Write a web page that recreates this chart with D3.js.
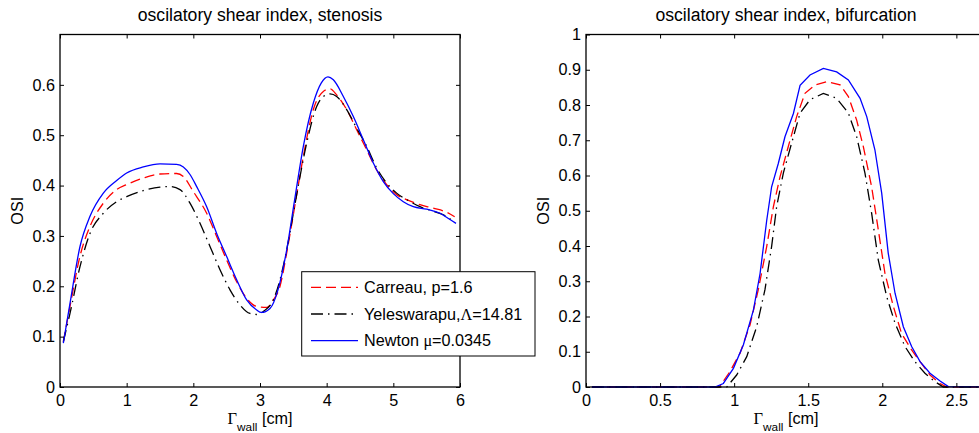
<!DOCTYPE html>
<html>
<head>
<meta charset="utf-8">
<script src="https://cdn.jsdelivr.net/npm/d3@7"></script>
<style>
  body { margin: 0; background: #fff; }
  text { font-family: "Liberation Sans", Arial, sans-serif; font-size: 16.2px; fill: #000; }
  text.title { font-size: 17.6px; }
</style>
</head>
<body>
<svg id="chart" width="979" height="433"></svg>
<script>
// stenosis panel, [x in cm, OSI]
var stenCarreau = [[0.05,0.09],[0.15,0.16],[0.3,0.26],[0.45,0.319],[0.65,0.365],[0.85,0.392],[1.0,0.402],[1.25,0.415],[1.5,0.423],[1.75,0.424],[1.85,0.418],[2.0,0.388],[2.2,0.345],[2.35,0.299],[2.5,0.252],[2.65,0.209],[2.8,0.176],[2.95,0.16],[3.1,0.158],[3.2,0.173],[3.3,0.2],[3.4,0.266],[3.52,0.358],[3.65,0.458],[3.8,0.551],[3.95,0.587],[4.05,0.592],[4.15,0.58],[4.3,0.551],[4.45,0.511],[4.6,0.471],[4.75,0.431],[4.9,0.402],[5.05,0.382],[5.2,0.372],[5.4,0.362],[5.6,0.355],[5.8,0.347],[5.92,0.338]]
var stenYeles = [[0.05,0.09],[0.15,0.146],[0.3,0.239],[0.45,0.305],[0.65,0.345],[0.85,0.368],[1.0,0.378],[1.25,0.39],[1.5,0.397],[1.65,0.398],[1.8,0.392],[1.95,0.365],[2.1,0.325],[2.25,0.279],[2.4,0.233],[2.55,0.193],[2.7,0.163],[2.85,0.146],[2.95,0.144],[3.05,0.15],[3.2,0.173],[3.3,0.213],[3.4,0.272],[3.5,0.345],[3.6,0.418],[3.7,0.484],[3.85,0.557],[3.95,0.577],[4.05,0.582],[4.15,0.577],[4.3,0.551],[4.45,0.514],[4.6,0.478],[4.75,0.435],[4.9,0.405],[5.05,0.385],[5.2,0.372],[5.4,0.358],[5.6,0.349],[5.75,0.342],[5.92,0.327]]
var stenNewton = [[0.05,0.087],[0.15,0.166],[0.3,0.279],[0.45,0.339],[0.65,0.385],[0.85,0.41],[1.0,0.425],[1.25,0.437],[1.5,0.443],[1.75,0.442],[1.85,0.437],[1.95,0.422],[2.05,0.398],[2.2,0.358],[2.35,0.305],[2.5,0.259],[2.65,0.213],[2.8,0.173],[2.95,0.153],[3.02,0.148],[3.15,0.156],[3.27,0.193],[3.4,0.272],[3.52,0.372],[3.65,0.478],[3.8,0.564],[3.92,0.604],[4.02,0.616],[4.1,0.61],[4.25,0.577],[4.4,0.537],[4.55,0.491],[4.7,0.445],[4.85,0.408],[5.0,0.384],[5.15,0.368],[5.3,0.358],[5.5,0.353],[5.7,0.345],[5.82,0.335],[5.94,0.325]]

// bifurcation panel
var bifCarreau = [[0.04,0],[0.9,0],[0.972,0.044],[1.04,0.096],[1.107,0.176],[1.163,0.276],[1.22,0.399],[1.265,0.512],[1.31,0.597],[1.366,0.683],[1.422,0.767],[1.478,0.833],[1.546,0.857],[1.625,0.866],[1.715,0.857],[1.771,0.824],[1.827,0.757],[1.872,0.682],[1.928,0.568],[1.973,0.446],[2.018,0.322],[2.075,0.228],[2.13,0.152],[2.198,0.105],[2.255,0.072],[2.322,0.034],[2.39,0.01],[2.435,0],[2.7,0]]
var bifYeles = [[0.04,0],[0.95,0],[1.017,0.034],[1.085,0.086],[1.152,0.171],[1.208,0.276],[1.253,0.399],[1.287,0.512],[1.332,0.607],[1.388,0.692],[1.445,0.777],[1.512,0.815],[1.602,0.833],[1.692,0.819],[1.771,0.777],[1.827,0.71],[1.883,0.607],[1.928,0.493],[1.973,0.36],[2.03,0.256],[2.086,0.181],[2.153,0.115],[2.22,0.072],[2.288,0.039],[2.356,0.015],[2.412,0],[2.7,0]]
var bifNewton = [[0.04,0],[0.871,0],[0.927,0.01],[0.995,0.053],[1.062,0.119],[1.13,0.218],[1.175,0.322],[1.22,0.473],[1.253,0.568],[1.298,0.634],[1.343,0.71],[1.4,0.776],[1.445,0.856],[1.512,0.885],[1.602,0.904],[1.692,0.894],[1.771,0.871],[1.85,0.819],[1.895,0.767],[1.95,0.673],[1.996,0.55],[2.04,0.38],[2.086,0.266],[2.142,0.171],[2.198,0.115],[2.255,0.072],[2.322,0.039],[2.39,0.017],[2.446,0.001],[2.7,0]]

var stenXTicks = [0, 1, 2, 3, 4, 5, 6]
var stenYTicks = [0, 0.1, 0.2, 0.3, 0.4, 0.5, 0.6]
var bifXTicks = [0, 0.5, 1, 1.5, 2, 2.5]
var bifYTicks = [0, 0.1, 0.2, 0.3, 0.4, 0.5, 0.6, 0.7, 0.8, 0.9, 1]

var legendNames = ['Carreau, p=1.6', 'Yeleswarapu,', 'Newton ']
var legendGreek = ['', '\u039B', '\u03BC']
var legendTail = ['', '=14.81', '=0.0345']

var styles = [
    { color: '#ff0000', dash: '10,5' },
    { color: '#000000', dash: '12,5,1.5,5' },
    { color: '#0000ff', dash: null }
]

var svg = d3.select('#chart')

function panel(opt) {
    var x = d3.scaleLinear().domain(opt.xDomain).range([opt.left, opt.left + 400])
    var y = d3.scaleLinear().domain(opt.yDomain).range([387, 34.5])
    var g = svg.append('g')
    var fmt = function (d) { return String(d) }

    // data lines
    var line = d3.line()
        .x(function (d) { return x(d[0]) })
        .y(function (d) { return y(d[1]) })
        .curve(opt.curve)
    opt.series.forEach(function (s, i) {
        g.append('path')
            .datum(s)
            .attr('d', line)
            .attr('fill', 'none')
            .attr('stroke', styles[i].color)
            .attr('stroke-width', 1.3)
            .attr('stroke-dasharray', styles[i].dash)
    })

    // axes, ticks pointing inwards on all four sides
    var gx = g.append('g').attr('transform', 'translate(0,387)')
        .call(d3.axisBottom(x).tickValues(opt.xTicks).tickFormat(fmt).tickSizeInner(-4).tickSizeOuter(0).tickPadding(7))
    var gxt = g.append('g').attr('transform', 'translate(0,34.5)')
        .call(d3.axisTop(x).tickValues(opt.xTicks).tickFormat('').tickSizeInner(-4).tickSizeOuter(0))
    var gy = g.append('g').attr('transform', 'translate(' + opt.left + ',0)')
        .call(d3.axisLeft(y).tickValues(opt.yTicks).tickFormat(fmt).tickSizeInner(-4).tickSizeOuter(0).tickPadding(5))
    var gyr = g.append('g').attr('transform', 'translate(' + (opt.left + 400) + ',0)')
        .call(d3.axisRight(y).tickValues(opt.yTicks).tickFormat('').tickSizeInner(-4).tickSizeOuter(0))
    ;[gx, gxt, gy, gyr].forEach(function (a) {
        a.select('.domain').remove()
        a.selectAll('line').attr('stroke', '#000').attr('stroke-width', 1)
        a.selectAll('text').attr('font-family', null).attr('font-size', null)
    })

    g.append('rect')
        .attr('x', opt.left).attr('y', 34.5)
        .attr('width', 400).attr('height', 352.5)
        .attr('fill', 'none').attr('stroke', '#000').attr('stroke-width', 1.3)

    // title
    g.append('text')
        .attr('class', 'title')
        .attr('x', opt.left + 200).attr('y', 21)
        .attr('text-anchor', 'middle')
        .text(opt.title)

    // y label
    g.append('text')
        .attr('transform', 'translate(' + (opt.left - 36.7) + ',210.7) rotate(-90)')
        .attr('text-anchor', 'middle')
        .text('OSI')

    // x label
    var xl = g.append('text')
        .attr('x', opt.left + 200).attr('y', 423.5)
        .attr('text-anchor', 'middle')
    xl.append('tspan').style('font-family', '"Liberation Serif", serif').style('font-size', '16.5px').text('\u0393')
    xl.append('tspan').attr('dy', 7).style('font-size', '11.8px').text('wall')
    xl.append('tspan').attr('dy', -7).text(' [cm]')
}

panel({
    left: 60, xDomain: [0, 6], yDomain: [0, 0.7],
    xTicks: stenXTicks, yTicks: stenYTicks,
    title: 'oscilatory shear index, stenosis',
    series: [stenCarreau, stenYeles, stenNewton],
    curve: d3.curveMonotoneX
})

panel({
    left: 586, xDomain: [0, 2.7], yDomain: [0, 1],
    xTicks: bifXTicks, yTicks: bifYTicks,
    title: 'oscilatory shear index, bifurcation',
    series: [bifCarreau, bifYeles, bifNewton],
    curve: d3.curveLinear
})

// legend sits over the right edge of the stenosis axes
var lg = svg.append('g')
lg.append('rect')
    .attr('x', 301.7).attr('y', 271.7)
    .attr('width', 233.3).attr('height', 84.3)
    .attr('fill', '#fff').attr('stroke', '#000').attr('stroke-width', 1)
legendNames.forEach(function (name, i) {
    var cy = 287.3 + i * 26.7
    lg.append('line')
        .attr('x1', 311).attr('x2', 358)
        .attr('y1', cy).attr('y2', cy)
        .attr('stroke', styles[i].color)
        .attr('stroke-width', 1.3)
        .attr('stroke-dasharray', styles[i].dash)
    var t = lg.append('text')
        .attr('x', 364).attr('y', cy).attr('dy', '0.35em')
    t.append('tspan').text(name)
    if (legendGreek[i]) {
        t.append('tspan').style('font-family', '"Liberation Serif", serif').text(legendGreek[i])
        t.append('tspan').text(legendTail[i])
    }
})
</script>
</body>
</html>
